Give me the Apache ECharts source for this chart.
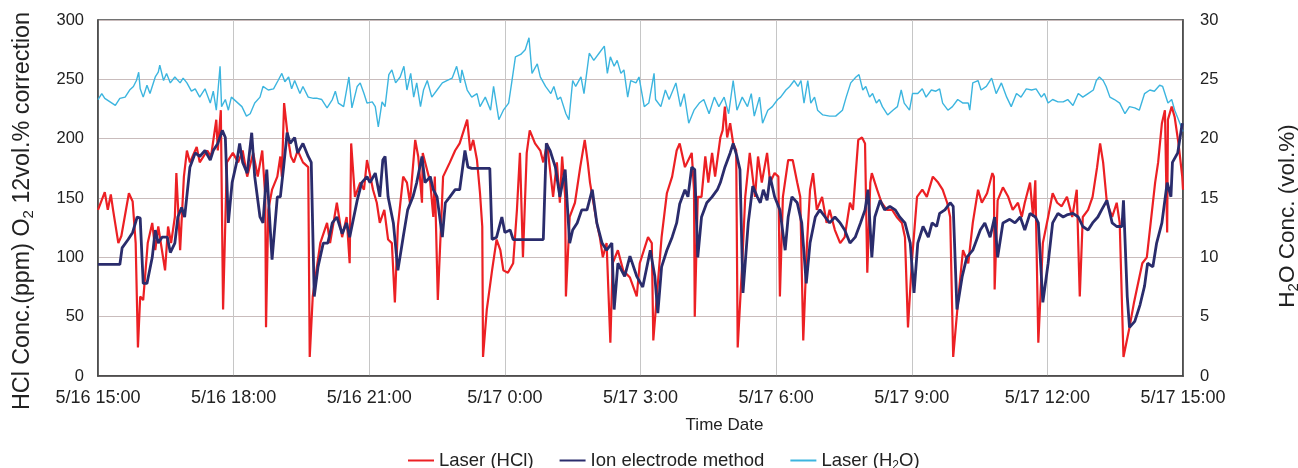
<!DOCTYPE html>
<html>
<head>
<meta charset="utf-8">
<script src="https://cdn.jsdelivr.net/npm/echarts@6/dist/echarts.min.js"></script>
<style>
  html, body { margin: 0; padding: 0; background: #fff; }
  #chart { width: 1298px; height: 468px; }
</style>
</head>
<body>
<div id="chart"></div>
<script>
// x = minutes after 5/16 15:00
var xTickLabels = ['5/16 15:00', '5/16 18:00', '5/16 21:00', '5/17 0:00', '5/17 3:00',
                   '5/17 6:00', '5/17 9:00', '5/17 12:00', '5/17 15:00'];

// Laser (HCl), ppm
var laserHcl = [[0,140],[9,155],[13,140],[17,153],[20,140],[27,112],[31,118],[41,154],[46,147],[50,112],[53,24],[56,67],[60,64],[66,112],[72,129],[76,106],[80,126],[89,89],[93,126],[97,112],[102,134],[104,171],[109,106],[114,168],[118,190],[122,180],[131,193],[135,180],[145,190],[150,185],[157,216],[159,190],[163,224],[166,56],[171,180],[179,188],[186,180],[192,190],[198,168],[206,188],[212,168],[218,190],[222,151],[223,41],[226,140],[231,157],[238,168],[242,185],[244,168],[247,230],[252,201],[256,185],[260,180],[265,190],[272,180],[279,176],[281,16],[285,67],[295,112],[304,129],[308,112],[317,146],[324,117],[330,134],[334,95],[336,196],[341,151],[348,163],[353,157],[357,182],[365,157],[370,146],[374,129],[380,140],[385,115],[390,112],[394,62],[398,126],[405,168],[410,163],[414,146],[421,199],[425,185],[430,146],[431,188],[441,163],[445,134],[447,168],[451,64],[458,168],[467,180],[474,190],[480,196],[490,216],[494,190],[498,199],[503,182],[507,154],[510,126],[511,16],[516,56],[523,89],[529,115],[534,106],[538,89],[544,87],[551,95],[556,140],[560,188],[564,100],[569,188],[573,207],[580,196],[587,190],[591,180],[596,196],[604,151],[609,180],[613,146],[616,185],[620,151],[621,67],[626,134],[633,146],[640,176],[646,199],[650,180],[653,163],[662,129],[666,117],[670,100],[675,112],[680,28],[683,95],[690,106],[697,89],[706,83],[715,67],[719,95],[730,117],[735,112],[737,30],[742,70],[748,117],[755,154],[762,168],[768,190],[772,196],[779,176],[788,188],[791,157],[792,50],[796,151],[801,151],[806,185],[810,163],[815,188],[819,168],[826,201],[829,207],[832,227],[835,201],[839,213],[843,196],[847,190],[849,24],[855,95],[859,151],[865,188],[872,151],[876,185],[881,163],[888,188],[892,163],[898,171],[903,168],[905,67],[909,151],[916,182],[922,182],[928,163],[932,151],[936,30],[941,112],[945,157],[949,171],[954,140],[961,151],[967,129],[971,140],[978,123],[985,112],[991,117],[998,146],[1002,140],[1009,199],[1014,201],[1018,196],[1021,87],[1025,163],[1027,171],[1034,157],[1040,146],[1047,140],[1054,140],[1060,134],[1067,129],[1071,117],[1075,41],[1080,95],[1087,151],[1094,157],[1100,151],[1108,168],[1115,163],[1121,157],[1127,146],[1131,134],[1135,16],[1142,67],[1148,106],[1155,95],[1161,129],[1168,157],[1173,146],[1180,154],[1187,171],[1189,168],[1190,73],[1194,148],[1201,159],[1208,151],[1214,140],[1221,146],[1226,134],[1230,146],[1237,163],[1241,134],[1244,165],[1248,28],[1254,112],[1261,134],[1267,154],[1273,146],[1279,143],[1286,151],[1293,134],[1299,157],[1303,67],[1307,134],[1314,140],[1320,151],[1326,176],[1330,196],[1334,180],[1339,146],[1346,134],[1352,146],[1356,129],[1361,16],[1369,41],[1375,62],[1386,95],[1392,100],[1399,140],[1403,163],[1407,180],[1412,213],[1416,224],[1419,121],[1420,216],[1425,227],[1429,218],[1434,196],[1439,168],[1440,157]];

// Ion electrode method, ppm
var ionElectrode = [[0,94],[29,94],[32,108],[40,115],[46,121],[52,134],[56,133],[60,78],[65,78],[72,100],[76,123],[80,112],[85,117],[92,117],[96,104],[102,112],[106,134],[111,142],[115,134],[122,176],[129,188],[135,185],[142,190],[149,182],[153,190],[159,196],[165,207],[169,201],[173,129],[178,163],[184,180],[188,196],[192,180],[198,171],[204,205],[208,168],[215,134],[219,129],[224,174],[231,98],[238,151],[242,151],[246,174],[251,205],[255,196],[261,201],[265,188],[272,196],[279,185],[283,180],[287,67],[292,92],[299,112],[305,112],[311,129],[317,134],[324,120],[330,129],[334,117],[344,148],[350,163],[357,168],[361,163],[368,171],[374,151],[378,182],[381,185],[385,151],[392,129],[398,89],[405,117],[411,140],[418,151],[423,163],[430,185],[434,163],[441,168],[445,157],[450,151],[457,117],[461,146],[467,151],[474,157],[480,157],[487,190],[491,176],[496,175],[520,175],[523,115],[529,117],[536,134],[540,121],[547,123],[551,115],[591,115],[595,196],[600,190],[607,176],[613,151],[620,174],[626,112],[630,123],[636,129],[642,140],[649,140],[656,157],[662,129],[669,112],[675,106],[682,112],[685,56],[690,95],[699,84],[706,101],[715,84],[723,75],[733,106],[739,84],[743,53],[748,92],[755,106],[762,117],[768,129],[772,145],[779,157],[783,151],[788,176],[792,174],[796,100],[801,134],[808,146],[815,151],[822,157],[826,163],[832,176],[839,188],[843,196],[848,185],[852,174],[856,70],[863,129],[869,160],[875,151],[879,146],[883,157],[888,148],[892,168],[898,151],[905,140],[912,106],[916,134],[921,151],[928,146],[934,129],[940,78],[945,112],[952,134],[958,140],[965,134],[971,129],[978,134],[985,129],[991,123],[998,112],[1005,117],[1012,129],[1018,140],[1022,157],[1027,100],[1031,134],[1038,148],[1044,140],[1051,143],[1058,140],[1064,134],[1071,129],[1078,112],[1083,70],[1088,112],[1095,126],[1102,117],[1107,129],[1113,126],[1117,137],[1124,140],[1131,146],[1135,143],[1140,56],[1147,84],[1153,100],[1161,106],[1171,123],[1177,129],[1184,117],[1190,134],[1194,100],[1201,129],[1210,132],[1217,129],[1224,134],[1230,123],[1237,137],[1244,134],[1248,129],[1254,62],[1261,95],[1267,129],[1274,137],[1281,134],[1287,136],[1294,137],[1301,134],[1307,126],[1314,123],[1320,129],[1327,134],[1332,140],[1339,148],[1346,129],[1352,126],[1359,126],[1361,148],[1366,67],[1369,41],[1376,46],[1383,60],[1389,76],[1393,95],[1400,92],[1405,112],[1412,129],[1419,163],[1424,151],[1426,180],[1433,188],[1439,213]];

// Laser (H2O), vol.%
var laserH2o = [[0,23.3],[5,23.8],[9,23.4],[16,23.1],[23,22.8],[29,23.4],[36,23.5],[42,24.1],[47,24.4],[51,24.9],[54,25.6],[56,24.2],[60,23.5],[65,24.5],[69,23.8],[76,25.2],[80,25.6],[82,26.2],[87,24.9],[91,25.5],[96,24.7],[102,25.2],[109,24.7],[113,25.1],[118,24.7],[124,24.0],[129,24.2],[135,23.5],[142,24.2],[149,23.0],[153,24.0],[157,22.4],[162,26.1],[164,22.7],[169,23.3],[173,22.4],[177,23.5],[184,23.1],[191,22.7],[197,21.9],[202,22.1],[208,23.0],[215,23.5],[219,24.4],[226,24.1],[233,24.2],[239,24.9],[244,25.5],[248,24.8],[253,25.2],[257,24.2],[261,24.9],[268,23.8],[272,24.4],[279,23.5],[286,23.4],[291,23.4],[297,23.3],[304,22.6],[311,23.3],[315,24.0],[319,23.0],[326,22.7],[333,25.2],[337,22.6],[344,24.4],[348,24.7],[353,23.8],[357,23.0],[364,23.1],[368,22.7],[372,21.0],[377,23.1],[381,22.7],[386,25.4],[390,25.8],[395,24.7],[401,25.2],[406,26.1],[410,24.1],[415,25.5],[419,23.5],[423,24.7],[428,22.7],[432,24.1],[437,24.9],[443,23.5],[450,24.1],[457,24.7],[463,24.9],[470,25.1],[476,26.1],[481,24.7],[483,25.8],[490,24.1],[496,23.5],[503,23.8],[507,22.7],[514,23.5],[521,22.4],[525,24.4],[532,21.6],[538,22.4],[545,23.0],[549,24.7],[554,26.9],[561,27.1],[567,27.5],[572,28.5],[576,25.5],[583,26.3],[587,25.2],[594,24.4],[601,23.8],[605,24.4],[610,23.3],[614,23.5],[621,22.1],[625,21.6],[630,24.9],[634,24.4],[641,25.2],[645,23.8],[652,27.2],[658,26.6],[665,27.2],[672,27.8],[676,25.5],[680,26.9],[685,26.1],[689,26.6],[694,25.5],[698,25.8],[703,23.5],[707,24.9],[714,24.7],[718,25.2],[725,22.7],[731,23.0],[738,25.5],[740,23.3],[747,22.7],[753,24.1],[758,23.3],[767,24.7],[773,22.7],[778,23.8],[784,21.3],[791,22.4],[798,23.0],[804,23.3],[811,22.1],[818,23.5],[824,22.7],[831,23.5],[837,22.1],[843,24.9],[848,22.4],[855,23.5],[862,22.7],[867,23.8],[871,21.9],[878,23.5],[882,21.3],[889,22.4],[895,22.7],[902,23.3],[906,23.5],[913,24.1],[918,24.4],[924,24.9],[929,24.4],[933,24.9],[937,23.0],[942,24.9],[946,23.0],[951,23.5],[955,22.4],[962,22.0],[971,21.9],[979,21.9],[988,22.4],[993,23.5],[999,24.7],[1006,25.2],[1010,25.4],[1015,24.1],[1019,24.4],[1024,23.5],[1028,23.8],[1033,23.0],[1037,23.3],[1041,22.7],[1048,22.0],[1055,22.4],[1061,22.7],[1066,24.1],[1070,23.0],[1077,22.4],[1081,23.8],[1088,23.8],[1094,24.2],[1099,23.5],[1106,24.1],[1112,24.0],[1117,24.2],[1121,23.0],[1128,22.4],[1134,22.7],[1141,23.3],[1148,23.0],[1155,23.0],[1157,22.4],[1161,24.7],[1168,24.9],[1172,24.1],[1179,24.4],[1186,25.1],[1192,23.8],[1199,24.7],[1206,23.5],[1212,22.7],[1219,23.8],[1225,23.5],[1232,24.2],[1239,24.1],[1245,24.2],[1252,23.5],[1256,23.8],[1261,23.0],[1267,23.3],[1274,23.1],[1281,23.1],[1287,23.3],[1294,22.8],[1301,23.8],[1307,23.5],[1314,23.8],[1321,24.1],[1325,24.9],[1329,25.2],[1334,24.9],[1338,24.4],[1343,23.5],[1349,23.3],[1356,23.0],[1363,22.1],[1369,22.7],[1376,22.6],[1382,22.4],[1389,23.8],[1396,24.1],[1402,24.0],[1409,24.5],[1413,24.4],[1416,23.8],[1420,23.0],[1425,23.3],[1429,22.4],[1434,21.6],[1440,20.6]];

var FONT = 'Liberation Sans, Arial, sans-serif';
var chart = echarts.init(document.getElementById('chart'));

//轴名称的下标
function subRich(size) {
    return {
        t: { fontSize: size, color: '#222', fontFamily: FONT, lineHeight: size + 4 },
        s: { fontSize: Math.round(size * 0.65), color: '#222', fontFamily: FONT, lineHeight: 8, verticalAlign: 'bottom' }
    };
}

var option = {
    animation: false,
    backgroundColor: '#fff',
    grid: {
        left: 98, right: 115, top: 20, bottom: 92,
        outerBoundsMode: 'none',
        containLabel: false,
        show: true, borderColor: '#444', borderWidth: 1.5
    },
    legend: {
        top: 446,
        left: 403,
        icon: 'rect',
        itemWidth: 26,
        itemHeight: 2,
        itemGap: 26,
        data: ['Laser (HCl)', 'Ion electrode method', 'Laser (H2O)'],
        formatter: function (name) {
            if (name === 'Laser (H2O)') return '{t|Laser (H}{s|2}{t|O)}';
            return '{t|' + name + '}';
        },
        textStyle: {
            rich: {
                t: { fontSize: 18.5, color: '#222', fontFamily: FONT, lineHeight: 22 },
                s: { fontSize: 12, color: '#222', fontFamily: FONT, lineHeight: 6, verticalAlign: 'bottom' }
            }
        }
    },
    xAxis: {
        type: 'value',
        min: 0, max: 1440, interval: 180,
        name: 'Time Date',
        nameLocation: 'middle',
        nameGap: 41,
        nameTextStyle: { fontSize: 17, color: '#222', fontFamily: FONT, padding: [0, 0, 0, 168] },
        axisLine: { show: true, lineStyle: { color: '#444', width: 1.5 } },
        axisTick: { show: false },
        axisLabel: {
            margin: 13, fontSize: 18, color: '#222', fontFamily: FONT,
            formatter: function (v) { return xTickLabels[Math.round(v / 180)]; }
        },
        splitLine: { show: true, lineStyle: { color: '#c6c6c6', width: 1 } }
    },
    yAxis: [{
        type: 'value',
        min: 0, max: 300, interval: 50,
        name: '{t|HCl Conc.(ppm) O}{s|2}{t| 12vol.% correction}',
        nameLocation: 'middle',
        nameRotate: 90,
        nameGap: 62,
        nameTextStyle: { rich: subRich(23.3), padding: [0, 26, 0, 0] },
        axisLine: { show: true, lineStyle: { color: '#444', width: 1.5 } },
        axisTick: { show: false },
        axisLabel: { margin: 14, fontSize: 16.5, color: '#222', fontFamily: FONT },
        splitLine: { show: true, lineStyle: { color: '#c9bcbc', width: 1 } }
    }, {
        type: 'value',
        min: 0, max: 30, interval: 5,
        position: 'right',
        name: '{t|H}{s|2}{t|O Conc. (vol.%)}',
        nameLocation: 'middle',
        nameRotate: 90,
        nameGap: 92,
        nameTextStyle: { rich: subRich(22.5), padding: [0, 36, 0, 0] },
        axisLine: { show: true, lineStyle: { color: '#444', width: 1.5 } },
        axisTick: { show: false },
        axisLabel: { margin: 17, fontSize: 16.5, color: '#222', fontFamily: FONT },
        splitLine: { show: false }
    }],
    series: [{
        name: 'Laser (H2O)',
        type: 'line',
        yAxisIndex: 1,
        symbol: 'none',
        data: laserH2o,
        lineStyle: { color: '#3cb5df', width: 1.4 },
        itemStyle: { color: '#3cb5df' },
        z: 2
    }, {
        name: 'Laser (HCl)',
        type: 'line',
        yAxisIndex: 0,
        symbol: 'none',
        data: laserHcl,
        lineStyle: { color: '#ec2024', width: 2.2 },
        itemStyle: { color: '#ec2024' },
        z: 3
    }, {
        name: 'Ion electrode method',
        type: 'line',
        yAxisIndex: 0,
        symbol: 'none',
        data: ionElectrode,
        lineStyle: { color: '#2a2c6c', width: 2.8 },
        itemStyle: { color: '#2a2c6c' },
        z: 4
    }]
};

chart.setOption(option);
</script>
</body>
</html>
